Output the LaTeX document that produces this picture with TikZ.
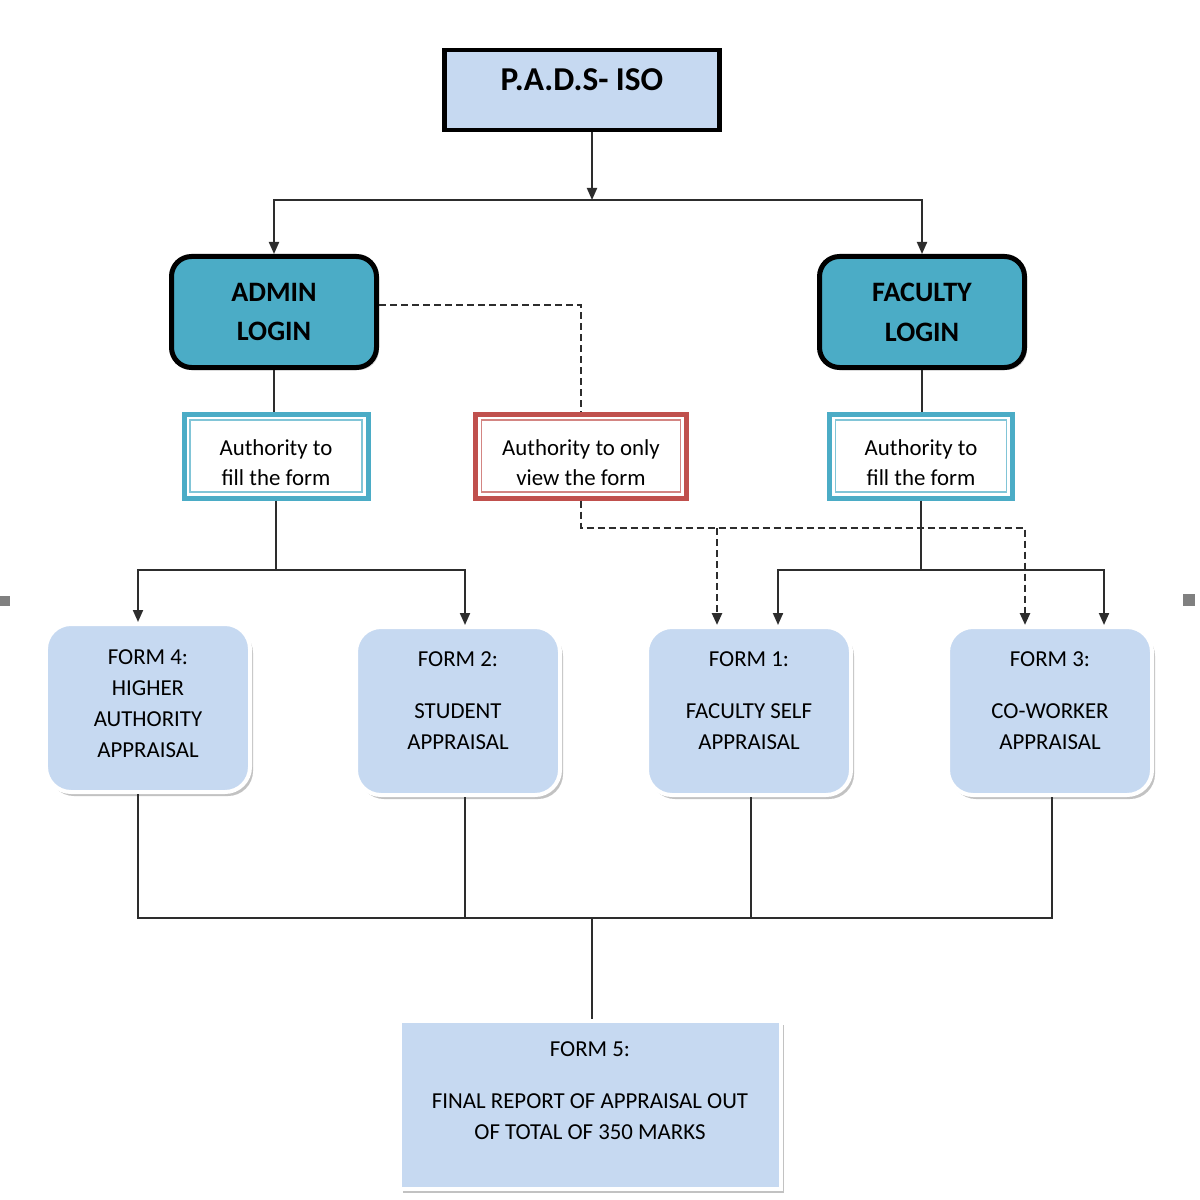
\documentclass[tikz,border=0pt]{standalone}
\usepackage{fontspec}
\setmainfont{Carlito}
\usetikzlibrary{calc, arrows.meta, shadows}

\definecolor{formblue}{RGB}{198,217,241}
\definecolor{logincyan}{RGB}{75,172,198}
\definecolor{authcyan}{RGB}{75,172,198}
\definecolor{authred}{RGB}{192,80,77}
\definecolor{linegray}{RGB}{45,45,45}

% struts to move text inside fixed boxes
\newcommand{\toppad}[1]{\rule{0pt}{#1}}
\newcommand{\lowpad}[1]{\rule[-#1]{0pt}{#1}}

\tikzset{
	conn/.style={linegray, line width=0.4mm},
	viewline/.style={conn, line width=0.5mm, dash pattern=on 1.4mm off 0.8mm},
	topbox/.style={draw=black, line width=0.9mm, fill=formblue, minimum width=55mm, minimum height=16mm,
		text depth=4mm, font=\bfseries\fontsize{19}{23}\selectfont,
		drop shadow={shadow xshift=0.4mm, shadow yshift=-0.4mm, opacity=0.3}},
	loginbox/.style={draw=black, line width=1mm, rounded corners=4mm, fill=logincyan, minimum width=41mm,
		minimum height=22.2mm, align=center, font=\bfseries\fontsize{16}{22.7}\selectfont,
		drop shadow={shadow xshift=0.5mm, shadow yshift=-0.5mm, opacity=0.3}},
	authbox/.style={draw=#1, line width=1mm, fill=white, minimum height=16.8mm, align=center,
		font=\fontsize{13}{17}\selectfont,
		path picture={\draw[#1!70, line width=0.35mm] ([shift={(1.2mm,-1.2mm)}]path picture bounding box.north west)
			rectangle ([shift={(-1.2mm,1.2mm)}]path picture bounding box.south east);}},
	formbox/.style={draw=white, line width=0.8mm, rounded corners=5mm, fill=formblue, minimum width=40.8mm,
		minimum height=33.6mm, align=center, text=black, font=\fontsize{13}{17.6}\selectfont,
		drop shadow={shadow xshift=0.6mm, shadow yshift=-0.8mm, fill=gray!80, opacity=0.6}},
}

\begin{document}
\begin{tikzpicture}[x=0.2mm, y=-0.2mm, >={Triangle[length=2.4mm,width=2mm]}]
	\useasboundingbox (0,0) rectangle (1200,1200);

	% top and logins
	\node[topbox] (pads) at (582,90) {P.A.D.S- ISO};
	\node[loginbox] (admin) at (274,312) {ADMIN\\LOGIN};
	\node[loginbox] (faculty) at (922,312) {FACULTY\\LOGIN};

	% authority boxes
	\node[authbox=authcyan, minimum width=36.8mm] (adminauth) at (276,456) {\toppad{16.5pt}Authority to\\fill the form};
	\node[authbox=authred, minimum width=42.2mm] (viewauth) at (581,456) {\toppad{16.5pt}Authority to only\\view the form};
	\node[authbox=authcyan, minimum width=36.6mm] (facauth) at (921,456) {\toppad{16.5pt}Authority to\\fill the form};

	% forms
	\node[formbox] (formfour) at (148,708) {FORM 4:\\HIGHER\\AUTHORITY\\APPRAISAL\lowpad{4.6pt}};
	\node[formbox] (formtwo) at (458,711) {FORM 2:\\[12pt]STUDENT\\APPRAISAL\lowpad{11.4pt}};
	\node[formbox] (formone) at (749,711) {FORM 1:\\[12pt]FACULTY SELF\\APPRAISAL\lowpad{11.4pt}};
	\node[formbox] (formthree) at (1050,711) {FORM 3:\\[12pt]CO-WORKER\\APPRAISAL\lowpad{11.4pt}};
	\node[formbox, rounded corners=0pt, minimum width=76.2mm] (formfive) at (590,1105)
		{FORM 5:\\[12pt]FINAL REPORT OF APPRAISAL OUT\\OF TOTAL OF 350 MARKS\lowpad{16pt}};

	% top split
	\draw[conn,->] ([xshift=2mm]pads.south) -- ([xshift=2mm]pads.south |- 0,200) coordinate (padsjoin);
	\draw[conn,->] (padsjoin) -| (admin.north);
	\draw[conn,->] (padsjoin) -| (faculty.north);

	% admin side
	\draw[conn] (admin.south) -- (admin.south |- adminauth.north);
	\draw[conn] (adminauth.south) -- (adminauth.south |- 0,570) coordinate (adminjoin);
	\draw[conn,->] (adminjoin) -| (138,0 |- formfour.north);
	\draw[conn,->] (adminjoin) -| (465,0 |- formtwo.north);

	% faculty side
	\draw[conn] (faculty.south) -- (faculty.south |- facauth.north);
	\draw[conn] (facauth.south) -- (facauth.south |- 0,570) coordinate (facjoin);
	\draw[conn,->] (facjoin) -| (778,0 |- formone.north);
	\draw[conn,->] (facjoin) -| (1104,0 |- formthree.north);

	% view only
	\draw[viewline] ([yshift=1.4mm]admin.east) -| (viewauth.north);
	\draw[viewline,->] (viewauth.south) |- (1025,528) -- (1025,0 |- formthree.north);
	\draw[viewline,->] (717,528) -- (717,0 |- formone.north);

	% to final report
	\draw[conn] (138,0 |- formfour.south) |- (1052,918) -- (1052,0 |- formthree.south);
	\draw[conn] (465,0 |- formtwo.south) -- (465,918);
	\draw[conn] (751,0 |- formone.south) -- (751,918);
	\draw[conn] (592,918) -- (592,0 |- formfive.north);

	% edge marks
	\fill[gray] (0,596) rectangle (10,606);
	\fill[gray] (1183,594) rectangle (1195,606);
\end{tikzpicture}
\end{document}
